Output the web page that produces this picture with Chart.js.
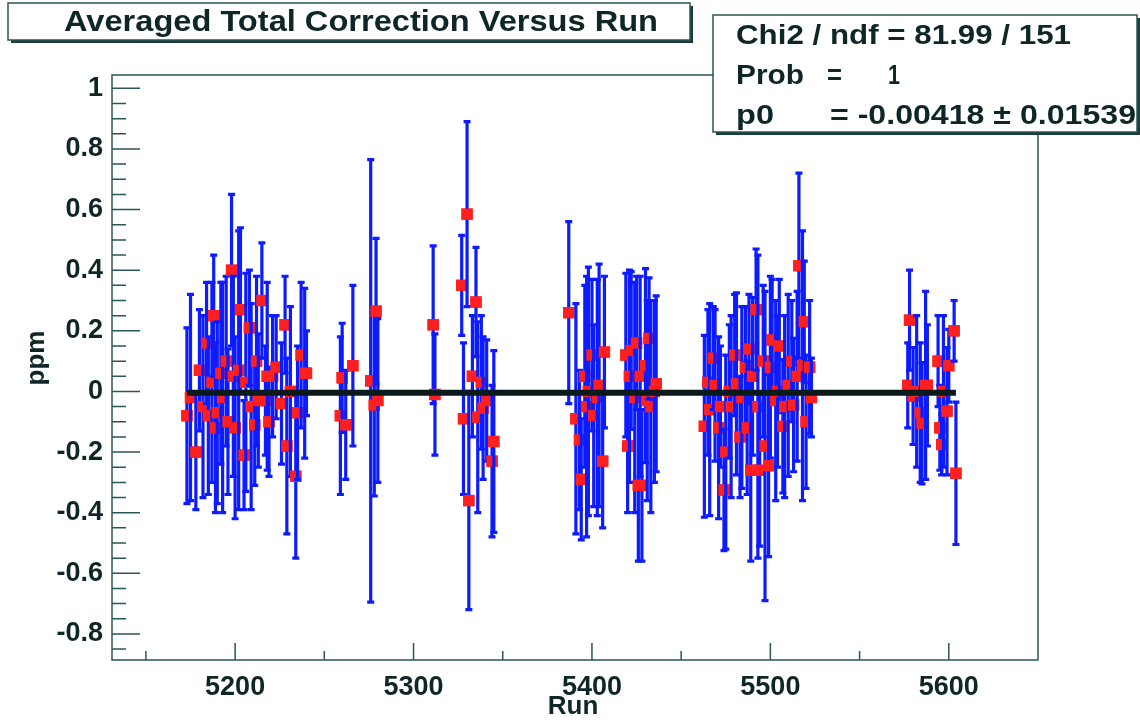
<!DOCTYPE html>
<html>
<head>
<meta charset="utf-8">
<script src="https://cdn.jsdelivr.net/npm/chart.js@4.4.0/dist/chart.umd.min.js"></script>
<style>
  html, body { margin: 0; padding: 0; background: #fff; }
  canvas { display: block; }
</style>
</head>
<body>
<canvas id="c" width="1140" height="723"></canvas>
<script>
// run numbers, one entry per averaged point (clusters on separate lines)
var runs = [
  5173,5175,5178,5180,5182,5184,5185,5187,5188,5189,5190,5192,5193,5195,5196,5198,5199,5200,5202,5203,5205,5206,5208,5209,5211,5212,5213,5215,5217,5218,5219,5221,5223,5226,5228,5229,5231,5234,5235,5237,5239,5240,
  5259,5260,5262,5266,5276,5278,5279,5280,
  5311,5312,
  5327,5328,5330,5331,5333,5335,5336,5338,5339,5341,5344,5345,
  5387,5391,5393,5394,5396,5397,5398,5400,5401,5403,5404,5406,5407,
  5419,5420,5421,5422,5424,5425,5426,5427,5428,5430,5431,5432,5433,5435,5436,
  5463,5465,5466,5468,5469,5471,5472,5474,5475,5477,5478,5480,5481,5483,5484,5486,5487,5488,5489,5490,5492,5493,5494,5496,5497,5499,5500,5501,5503,5504,5505,5507,5508,5510,5512,5513,5515,5516,5518,5519,5520,5522,5523,
  5577,5578,5580,5582,5584,5585,5587,5588,5594,5595,5596,5597,5599,5600,5603,5604
];
// averaged total correction (ppm)
var ppm = [
  -0.08,-0.02,-0.20,0.07,-0.05,0.16,-0.08,0.03,0.25,-0.12,-0.07,0.06,-0.02,0.10,-0.10,0.40,0.05,-0.12,0.07,0.27,-0.21,0.03,0.21,-0.05,-0.11,0.10,-0.03,0.30,-0.03,0.05,-0.10,0.05,0.08,-0.04,0.22,-0.18,0.00,-0.28,-0.07,0.12,0.06,0.06,
  -0.08,0.045,-0.11,0.085,0.035,-0.045,0.265,-0.03,
  0.22,-0.01,
  0.35,-0.09,0.585,-0.36,0.05,0.295,-0.085,0.03,-0.055,-0.03,-0.23,-0.165,
  0.26,-0.09,-0.16,-0.29,0.05,-0.05,0.00,0.12,-0.08,-0.02,0.02,-0.23,0.13,
  0.12,-0.18,0.05,0.135,-0.02,0.16,-0.31,0.05,-0.31,0.085,-0.03,0.175,-0.05,0.00,0.025,
  -0.115,0.03,-0.06,0.11,0.02,-0.12,-0.05,-0.325,-0.20,0.00,-0.05,0.12,0.025,-0.15,-0.02,0.08,-0.12,0.14,-0.26,0.05,0.27,-0.05,-0.26,0.10,-0.18,-0.245,0.08,0.17,-0.03,0.00,0.15,-0.115,-0.05,0.02,0.10,-0.045,0.05,0.415,0.085,0.23,-0.10,0.08,-0.02,
  0.02,0.235,-0.015,0.00,-0.07,-0.105,0.02,0.02,0.10,-0.12,-0.175,0.00,-0.065,0.085,0.20,-0.27
];
// symmetric errors (ppm)
var ppmErr = [
  0.29,0.34,0.19,0.20,0.30,0.20,0.26,0.33,0.20,0.28,0.30,0.30,0.38,0.28,0.24,0.25,0.33,0.30,0.46,0.27,0.18,0.36,0.19,0.34,0.20,0.28,0.22,0.19,0.18,0.31,0.18,0.20,0.17,0.20,0.16,0.29,0.28,0.27,0.22,0.24,0.28,0.14,
  0.26,0.18,0.18,0.265,0.73,0.30,0.24,0.27,
  0.26,0.20,
  0.165,0.25,0.305,0.36,0.20,0.18,0.315,0.22,0.235,0.20,0.25,0.30,
  0.30,0.38,0.23,0.20,0.30,0.43,0.41,0.25,0.30,0.39,0.40,0.22,0.25,
  0.27,0.22,0.35,0.26,0.38,0.22,0.25,0.33,0.25,0.32,0.33,0.20,0.35,0.30,0.29,
  0.30,0.24,0.35,0.17,0.25,0.30,0.20,0.20,0.32,0.22,0.30,0.20,0.30,0.20,0.30,0.20,0.22,0.18,0.30,0.26,0.20,0.50,0.25,0.25,0.51,0.30,0.30,0.20,0.33,0.25,0.22,0.22,0.30,0.30,0.20,0.22,0.28,0.305,0.445,0.20,0.22,0.22,0.13,
  0.14,0.165,0.16,0.25,0.23,0.20,0.31,0.20,0.15,0.14,0.10,0.25,0.21,0.12,0.10,0.235
];

var fitP0 = -0.00418;
var xTicks = [5200, 5300, 5400, 5500, 5600];
var xMinor = [5150, 5250, 5350, 5450, 5550, 5650];
var yTicks = [-0.8, -0.6, -0.4, -0.2, 0, 0.2, 0.4, 0.6, 0.8, 1];
var titleText = "Averaged Total Correction Versus Run";
var statRows = [
  ["Chi2 / ndf = 81.99 / 151", "", ""],
  ["Prob", "=", "1"],
  ["p0", "= -0.00418 \u00b1 0.01539", ""]
];

var FONT = "'Liberation Sans', Arial, Helvetica, sans-serif";
var INK = '#0f2626';
var LINE = '#2b5656';

function fitText(ctx, txt, x, y, w) {
  var m = ctx.measureText(txt).width;
  ctx.save();
  ctx.translate(x, y);
  ctx.scale(w / m, 1);
  ctx.fillText(txt, 0, 0);
  ctx.restore();
}

// error bars then marker, point by point (ROOT draws them that way)
var errorBars = {
  id: 'errorBars',
  afterDatasetDraw: function(chart, args) {
    if (args.index !== 1) return;
    var ctx = chart.ctx, y = chart.scales.y, a = chart.chartArea;
    ctx.save();
    ctx.beginPath();
    ctx.rect(a.left, a.top, a.right - a.left, a.bottom - a.top);
    ctx.clip();
    args.meta.data.forEach(function(pt, i) {
      var top = y.getPixelForValue(ppm[i] + ppmErr[i]);
      var bot = y.getPixelForValue(ppm[i] - ppmErr[i]);
      ctx.strokeStyle = '#0d1bff';
      ctx.lineWidth = 3.2;
      ctx.beginPath();
      ctx.moveTo(pt.x, top); ctx.lineTo(pt.x, bot);
      ctx.moveTo(pt.x - 3.5, top); ctx.lineTo(pt.x + 3.5, top);
      ctx.moveTo(pt.x - 3.5, bot); ctx.lineTo(pt.x + 3.5, bot);
      ctx.stroke();
      pt.draw(ctx, a);
    });
    ctx.restore();
  }
};

var rootFrame = {
  id: 'rootFrame',
  beforeDatasetsDraw: function(chart) {
    var ctx = chart.ctx, a = chart.chartArea, x = chart.scales.x, y = chart.scales.y;
    ctx.save();
    ctx.strokeStyle = LINE;
    ctx.lineWidth = 1.5;
    ctx.strokeRect(a.left, a.top, a.right - a.left, a.bottom - a.top);
    ctx.beginPath();
    xTicks.forEach(function(v) {
      var px = x.getPixelForValue(v);
      ctx.moveTo(px, a.bottom); ctx.lineTo(px, a.bottom - 17);
    });
    xMinor.forEach(function(v) {
      var px = x.getPixelForValue(v);
      if (px > a.left && px < a.right) { ctx.moveTo(px, a.bottom); ctx.lineTo(px, a.bottom - 9); }
    });
    for (var k = -17; k <= 20; k++) {
      var v = k * 0.05, py = y.getPixelForValue(v);
      var major = (k % 4 === 0);
      ctx.moveTo(a.left, py); ctx.lineTo(a.left + (major ? 28 : 14), py);
    }
    ctx.stroke();
    ctx.restore();
  },
  afterDraw: function(chart) {
    var ctx = chart.ctx, a = chart.chartArea;
    ctx.save();
    // title box
    ctx.fillStyle = '#1e3c3c';
    ctx.fillRect(11, 6, 682, 37);
    ctx.fillStyle = '#fff';
    ctx.fillRect(8, 3, 682, 37);
    ctx.strokeStyle = LINE;
    ctx.lineWidth = 1.5;
    ctx.strokeRect(8, 3, 682, 37);
    ctx.fillStyle = INK;
    ctx.textBaseline = 'middle';
    ctx.textAlign = 'left';
    ctx.font = 'bold 29px ' + FONT;
    fitText(ctx, titleText, 64, 23, 594);

    // stats box
    ctx.fillStyle = '#1e3c3c';
    ctx.fillRect(716, 18, 424, 117);
    ctx.fillStyle = '#fff';
    ctx.fillRect(713, 15, 424, 117);
    ctx.strokeStyle = LINE;
    ctx.strokeRect(713, 15, 424, 117);
    ctx.fillStyle = INK;
    ctx.font = 'bold 27px ' + FONT;
    fitText(ctx, statRows[0][0], 736, 37, 335);
    fitText(ctx, statRows[1][0], 736, 77, 68);
    fitText(ctx, statRows[1][1], 827, 77, 15);
    fitText(ctx, statRows[1][2], 888, 77, 12);
    fitText(ctx, statRows[2][0], 736, 117, 38);
    fitText(ctx, statRows[2][1], 830, 117, 306);

    // axis titles
    ctx.font = 'bold 26px ' + FONT;
    ctx.textAlign = 'center';
    ctx.fillText('Run', (a.left + a.right) / 2 - 2, 707);
    ctx.translate(37, 358);
    ctx.rotate(-Math.PI / 2);
    ctx.fillText('ppm', 0, 0);
    ctx.restore();
  }
};

var pts = runs.map(function(r, i) { return { x: r, y: ppm[i] }; });

new Chart(document.getElementById('c'), {
  type: 'scatter',
  data: {
    datasets: [
      {
        type: 'line',
        label: 'fit p0',
        data: [{ x: runs[0], y: fitP0 }, { x: runs[runs.length - 1], y: fitP0 }],
        borderColor: '#0a1a1a',
        borderWidth: 6,
        pointRadius: 0,
        order: 0
      },
      {
        label: 'correction',
        data: pts,
        pointStyle: 'rect',
        pointRadius: 8,
        backgroundColor: '#ff1f1f',
        borderWidth: 0,
        order: 1
      }
    ]
  },
  options: {
    responsive: false,
    animation: false,
    devicePixelRatio: 1,
    layout: { padding: { top: 75, right: 102, left: 0, bottom: 0 } },
    plugins: { legend: { display: false }, tooltip: { enabled: false } },
    scales: {
      x: {
        type: 'linear',
        min: 5131,
        max: 5650,
        afterFit: function(s) { s.height = 63; },
        afterBuildTicks: function(s) { s.ticks = xTicks.map(function(v) { return { value: v }; }); },
        grid: { display: false, drawTicks: false },
        border: { display: false },
        ticks: {
          color: INK,
          font: { family: FONT, size: 27, weight: 'bold' },
          padding: 11,
          maxRotation: 0,
          autoSkip: false,
          callback: function(v) { return String(v); }
        }
      },
      y: {
        min: -0.886,
        max: 1.044,
        afterFit: function(s) { s.width = 112; },
        afterBuildTicks: function(s) { s.ticks = yTicks.map(function(v) { return { value: v }; }); },
        grid: { display: false, drawTicks: false },
        border: { display: false },
        ticks: {
          color: INK,
          font: { family: FONT, size: 27, weight: 'bold' },
          padding: 9,
          autoSkip: false,
          callback: function(v) { return String(v); }
        }
      }
    }
  },
  plugins: [errorBars, rootFrame]
});
</script>
</body>
</html>
